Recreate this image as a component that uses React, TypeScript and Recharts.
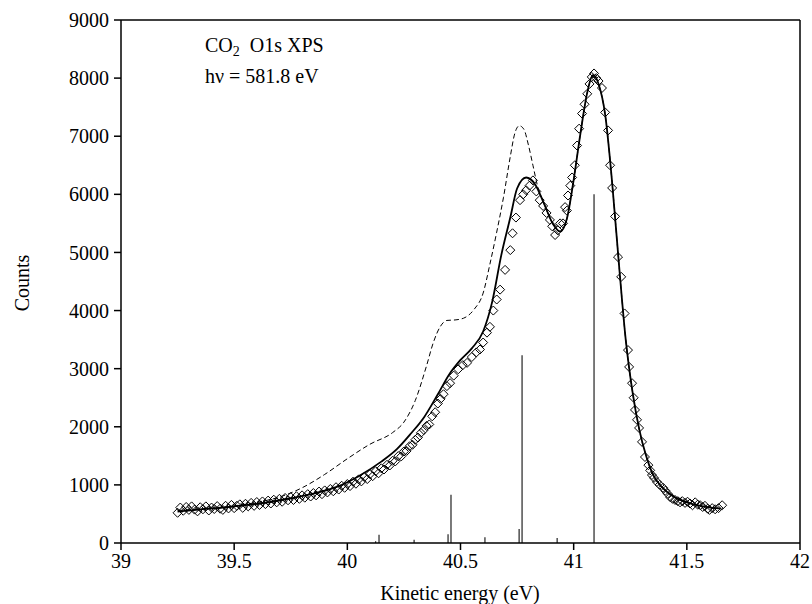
import { ComposedChart, XAxis, YAxis, Line, Scatter, ReferenceLine } from "recharts";

// measured O1s spectrum (kinetic energy eV, counts)
const measured: [number, number][] = [
  [39.25, 520], [39.262, 610], [39.275, 555], [39.288, 620], [39.3, 570], [39.312, 630],
  [39.325, 575], [39.338, 545], [39.35, 615], [39.362, 580], [39.375, 630], [39.388, 560],
  [39.4, 610], [39.412, 585], [39.425, 635], [39.438, 590], [39.45, 570], [39.462, 640],
  [39.475, 595], [39.488, 655], [39.5, 600], [39.512, 640], [39.525, 665], [39.538, 605],
  [39.55, 675], [39.562, 630], [39.575, 690], [39.588, 640], [39.6, 705], [39.612, 655],
  [39.625, 715], [39.638, 670], [39.65, 730], [39.662, 680], [39.675, 745], [39.688, 700],
  [39.7, 760], [39.712, 710], [39.725, 775], [39.738, 735], [39.75, 790], [39.762, 740],
  [39.775, 805], [39.788, 760], [39.8, 820], [39.812, 780], [39.825, 840], [39.838, 800],
  [39.85, 860], [39.862, 820], [39.875, 885], [39.888, 840], [39.9, 905], [39.912, 870],
  [39.925, 930], [39.938, 890], [39.95, 960], [39.962, 920], [39.975, 985], [39.988, 950],
  [40.0, 1015], [40.012, 980], [40.025, 1055], [40.038, 1020], [40.05, 1095], [40.062, 1060],
  [40.075, 1135], [40.088, 1100], [40.1, 1185], [40.112, 1150], [40.125, 1235], [40.138, 1200],
  [40.15, 1285], [40.162, 1265], [40.175, 1345], [40.188, 1335], [40.2, 1415], [40.212, 1405],
  [40.225, 1495], [40.238, 1490], [40.25, 1575], [40.262, 1585], [40.275, 1665], [40.288, 1690],
  [40.3, 1775], [40.312, 1815], [40.325, 1895], [40.338, 1945], [40.35, 2015], [40.362, 2040],
  [40.375, 2180], [40.388, 2250], [40.4, 2400], [40.412, 2480], [40.425, 2560], [40.44, 2700],
  [40.454, 2750], [40.47, 2880], [40.49, 2990], [40.51, 3060], [40.529, 3100], [40.55, 3200],
  [40.57, 3280], [40.586, 3330], [40.6, 3450], [40.617, 3620], [40.63, 3720], [40.645, 4000],
  [40.66, 4190], [40.675, 4360], [40.697, 4700], [40.72, 5040], [40.73, 5330], [40.745, 5600],
  [40.763, 5900], [40.777, 6000], [40.79, 6070], [40.805, 6150], [40.82, 6240], [40.835, 6050],
  [40.85, 5900], [40.865, 5800], [40.88, 5680], [40.895, 5560], [40.905, 5450], [40.918, 5300],
  [40.93, 5380], [40.94, 5500], [40.953, 5500], [40.962, 5780], [40.97, 5720], [40.975, 5980],
  [40.985, 6150], [40.993, 6290], [41.005, 6500], [41.015, 6840], [41.024, 7130], [41.037, 7390],
  [41.048, 7550], [41.06, 7730], [41.07, 7900], [41.08, 8020], [41.09, 8080], [41.1, 8000],
  [41.11, 7950], [41.125, 7830], [41.139, 7410], [41.152, 7100], [41.161, 6500], [41.17, 6110],
  [41.183, 5620], [41.196, 4920], [41.21, 4580], [41.225, 3950], [41.24, 3320], [41.245, 3030],
  [41.258, 2750], [41.265, 2500], [41.271, 2290], [41.28, 2120], [41.289, 1980], [41.302, 1740],
  [41.315, 1480], [41.33, 1340], [41.338, 1250], [41.346, 1170], [41.355, 1120], [41.368, 1050],
  [41.38, 1000], [41.395, 950], [41.405, 900], [41.415, 850], [41.426, 790], [41.437, 760],
  [41.448, 740], [41.46, 720], [41.47, 700], [41.48, 720], [41.492, 690], [41.503, 710],
  [41.514, 680], [41.525, 650], [41.537, 700], [41.548, 660], [41.559, 650], [41.57, 620],
  [41.58, 640], [41.592, 590], [41.6, 570], [41.612, 600], [41.625, 580], [41.64, 600],
  [41.656, 650],
];

// solid curve (calculated spectrum)
const fitted: [number, number][] = [
  [39.25, 540], [39.35, 580], [39.45, 610], [39.55, 650], [39.65, 700], [39.75, 770],
  [39.85, 850], [39.95, 960], [40.05, 1150], [40.15, 1400], [40.22, 1620], [40.28, 1880],
  [40.34, 2170], [40.4, 2560], [40.45, 2900], [40.5, 3150], [40.55, 3350], [40.6, 3640],
  [40.64, 4150], [40.68, 4950], [40.72, 5600], [40.75, 6100], [40.79, 6290], [40.83, 6170],
  [40.87, 5830], [40.91, 5480], [40.94, 5360], [40.97, 5580], [41.0, 6250], [41.03, 7050],
  [41.06, 7750], [41.085, 8050], [41.11, 7900], [41.14, 7350], [41.17, 6200], [41.2, 4800],
  [41.23, 3500], [41.26, 2600], [41.29, 1950], [41.32, 1500], [41.35, 1180], [41.39, 960],
  [41.44, 800], [41.5, 700], [41.56, 640], [41.65, 590],
];

// dashed curve
const dashed: [number, number][] = [
  [39.25, 560], [39.4, 600], [39.5, 640], [39.6, 700], [39.7, 790], [39.8, 950],
  [39.9, 1180], [40.0, 1450], [40.1, 1700], [40.2, 1900], [40.25, 2080], [40.3, 2450],
  [40.35, 3050], [40.38, 3450], [40.41, 3720], [40.44, 3830], [40.48, 3840], [40.52, 3880],
  [40.56, 4020], [40.6, 4300], [40.63, 4800], [40.66, 5350], [40.69, 5950], [40.72, 6650],
  [40.74, 7050], [40.76, 7180], [40.78, 7120], [40.8, 6850], [40.82, 6500], [40.84, 6150],
  [40.87, 5830], [40.91, 5480], [40.94, 5360], [40.97, 5580], [41.0, 6250], [41.03, 7050],
  [41.06, 7750], [41.085, 8050], [41.11, 7900], [41.14, 7350], [41.17, 6200], [41.2, 4800],
  [41.23, 3500], [41.26, 2600], [41.29, 1950], [41.32, 1500], [41.35, 1180], [41.39, 960],
  [41.44, 800], [41.5, 700], [41.56, 640], [41.65, 590],
];

// stick spectrum
const stickEnergy = [40.125, 40.14, 40.295, 40.445, 40.458, 40.608, 40.759, 40.772, 40.927, 41.09];
const stickHeight = [30, 140, 55, 150, 830, 100, 240, 3230, 85, 6000];

const energyTicks = [39, 39.5, 40, 40.5, 41, 41.5, 42];
const countTicks = [0, 1000, 2000, 3000, 4000, 5000, 6000, 7000, 8000, 9000];

const toPoints = (arr: [number, number][]) => arr.map(([x, y]) => ({ x, y }));

const font = "'Liberation Serif', 'Times New Roman', serif";

const Diamond = (props: any) => {
  const { cx, cy } = props;
  const r = 4.5;
  return (
    <polygon
      points={`${cx},${cy - r} ${cx + r},${cy} ${cx},${cy + r} ${cx - r},${cy}`}
      fill="none"
      stroke="#000"
      strokeWidth={1}
    />
  );
};

const App = () => {
  const tick = { fontFamily: font, fontSize: 20, fill: "#000" };
  return (
    <div style={{ position: "relative", width: 812, height: 604, overflow: "hidden", fontFamily: font, color: "#000" }}>
      <style>{"html,body{margin:0;padding:0;overflow:hidden;}"}</style>
      <ComposedChart width={812} height={604} margin={{ top: 20, right: 12, left: 51, bottom: 11 }}>
        <XAxis
          type="number"
          dataKey="x"
          domain={[39, 42]}
          ticks={energyTicks}
          height={50}
          tick={tick}
          tickSize={7}
          tickMargin={4}
          stroke="#000"
          strokeWidth={1.5}
          allowDataOverflow
        />
        <YAxis
          type="number"
          domain={[0, 9000]}
          ticks={countTicks}
          width={70}
          tick={tick}
          tickSize={7}
          tickMargin={5}
          stroke="#000"
          strokeWidth={1.5}
          allowDataOverflow
        />
        <ReferenceLine y={9000} stroke="#000" strokeWidth={1.5} />
        <ReferenceLine x={42} stroke="#000" strokeWidth={1.5} />
        {stickEnergy.map((e, i) => (
          <ReferenceLine
            key={`stick-${i}`}
            segment={[{ x: e, y: 0 }, { x: e, y: stickHeight[i] }]}
            stroke="#222"
            strokeWidth={1.2}
          />
        ))}
        <Line
          data={toPoints(dashed)}
          dataKey="y"
          type="monotone"
          stroke="#000"
          strokeWidth={1}
          strokeDasharray="5 3"
          dot={false}
          isAnimationActive={false}
        />
        <Line
          data={toPoints(fitted)}
          dataKey="y"
          type="monotone"
          stroke="#000"
          strokeWidth={1.8}
          dot={false}
          isAnimationActive={false}
        />
        <Scatter data={toPoints(measured)} dataKey="y" shape={<Diamond />} isAnimationActive={false} />
      </ComposedChart>

      <div style={{ position: "absolute", left: 205, top: 35, fontSize: 20, lineHeight: "20px", whiteSpace: "nowrap" }}>
        CO<span style={{ fontSize: 14, position: "relative", top: 4 }}>2</span>
        <span style={{ marginLeft: 10 }}>O1s XPS</span>
      </div>
      <div style={{ position: "absolute", left: 205, top: 66, fontSize: 20, lineHeight: "20px", whiteSpace: "nowrap" }}>
        hν = 581.8 eV
      </div>
      <div
        style={{
          position: "absolute",
          left: 22,
          top: 283,
          fontSize: 20,
          lineHeight: "20px",
          whiteSpace: "nowrap",
          transform: "translate(-50%, -50%) rotate(-90deg)",
        }}
      >
        Counts
      </div>
      <div
        style={{
          position: "absolute",
          left: 460,
          top: 583,
          fontSize: 20,
          lineHeight: "20px",
          whiteSpace: "nowrap",
          transform: "translateX(-50%)",
        }}
      >
        Kinetic energy (eV)
      </div>
    </div>
  );
};

export default App;
